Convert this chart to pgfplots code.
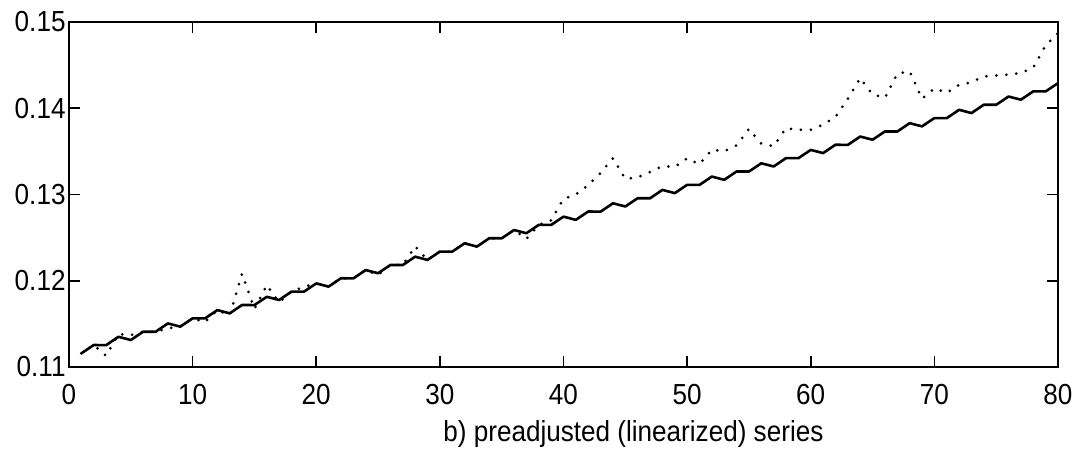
\documentclass[border=0pt]{standalone}
\usepackage{fontspec}
\setmainfont[FakeStretch=0.9]{Liberation Sans}
\usepackage{pgfplots}
\usepackage{pgfplotstable}
\pgfplotsset{compat=1.18}
\pgfplotstableread{
x s d
1 0.11158 0.11158
2 0.11255 0.11255
3 0.11253 0.11130
4 0.11350 0.11380
5 0.11313 0.11370
6 0.11409 0.11409
7 0.11408 0.11408
8 0.11505 0.11450
9 0.11468 0.11468
10 0.11564 0.11564
11 0.11563 0.11520
12 0.11660 0.11660
13 0.11622 0.11600
14 0.11719 0.12080
15 0.11718 0.11675
16 0.11814 0.11950
17 0.11777 0.11750
18 0.11874 0.11874
19 0.11873 0.11930
20 0.11969 0.11969
21 0.11932 0.11932
22 0.12029 0.12029
23 0.12027 0.12027
24 0.12124 0.12124
25 0.12087 0.12065
26 0.12183 0.12183
27 0.12182 0.12182
28 0.12279 0.12400
29 0.12242 0.12240
30 0.12338 0.12338
31 0.12337 0.12337
32 0.12434 0.12434
33 0.12396 0.12396
34 0.12493 0.12493
35 0.12492 0.12492
36 0.12588 0.12588
37 0.12551 0.12485
38 0.12648 0.12648
39 0.12647 0.12700
40 0.12743 0.12950
41 0.12706 0.13000
42 0.12803 0.13110
43 0.12801 0.13250
44 0.12898 0.13420
45 0.12861 0.13180
46 0.12957 0.13200
47 0.12956 0.13260
48 0.13053 0.13330
49 0.13016 0.13320
50 0.13112 0.13420
51 0.13111 0.13350
52 0.13208 0.13520
53 0.13170 0.13500
54 0.13267 0.13570
55 0.13266 0.13760
56 0.13362 0.13590
57 0.13325 0.13560
58 0.13422 0.13770
59 0.13421 0.13750
60 0.13517 0.13750
61 0.13480 0.13810
62 0.13577 0.13900
63 0.13575 0.14110
64 0.13672 0.14350
65 0.13635 0.14160
66 0.13731 0.14120
67 0.13730 0.14400
68 0.13827 0.14430
69 0.13790 0.14110
70 0.13886 0.14230
71 0.13885 0.14180
72 0.13982 0.14270
73 0.13944 0.14300
74 0.14041 0.14370
75 0.14040 0.14380
76 0.14136 0.14390
77 0.14099 0.14410
78 0.14196 0.14470
79 0.14195 0.14730
80 0.14291 0.14870
}\datatable
\begin{document}
\begin{tikzpicture}
\begin{axis}[name=ax, at={(0,0)}, anchor=south west,
  scale only axis, width=494.5pt, height=172.5pt,
  xmin=0, xmax=80, ymin=0.11, ymax=0.15,
  xtick={0,10,20,30,40,50,60,70,80},
  ytick={0.11,0.12,0.13,0.14,0.15},
  yticklabels={0.11,0.12,0.13,0.14,0.15},
  scaled y ticks=false,
  tick align=inside, major tick length=5.3pt,
  axis line style={line width=1pt},
  every tick/.style={black, line width=0.8pt},
  tick label style={font=\fontsize{14.5}{17}\selectfont},
  /pgf/number format/assume math mode=true,
  xticklabel style={yshift=-5.2pt},
  yticklabel style={xshift=1.8pt},
  xlabel={b) preadjusted (linearized) series},
  xlabel style={font=\fontsize{14.5}{17}\selectfont, at={(axis description cs:0.5707,0)}, anchor=north, yshift=-23.2pt},
]
\addplot[black, line width=1.5pt, line cap=round, dash pattern=on 0pt off 5pt] table[x=x,y=d]{\datatable};
\addplot[black, line width=1.3pt, line join=round] table[x=x,y=s]{\datatable};
\end{axis}
\pgfresetboundingbox
\useasboundingbox (-34.5pt,-43.5pt) rectangle (506.5pt,183.5pt);
\end{tikzpicture}
\end{document}
